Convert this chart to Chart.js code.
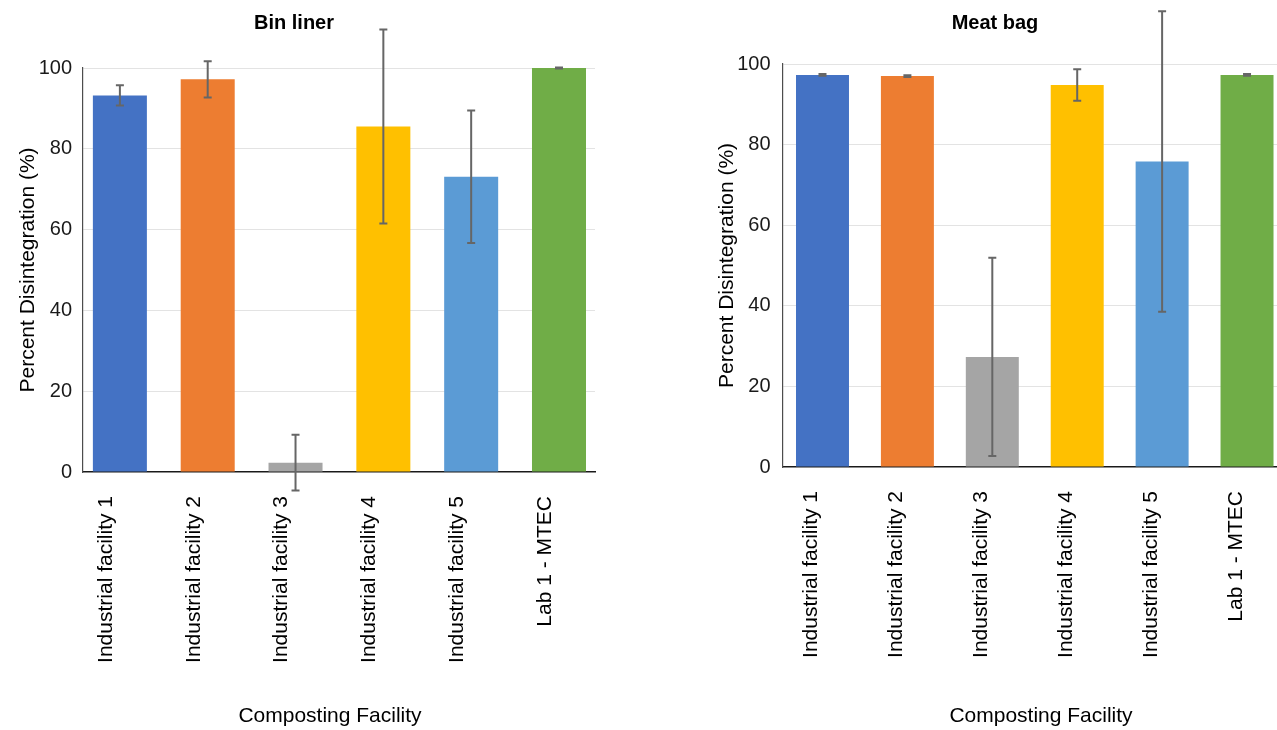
<!DOCTYPE html>
<html>
<head>
<meta charset="utf-8">
<title>Percent Disintegration by Composting Facility</title>
<script src="https://cdn.jsdelivr.net/npm/chart.js@4/dist/chart.umd.min.js"></script>
<style>
  html, body { margin: 0; padding: 0; background: #ffffff; overflow: hidden; }
  body { width: 1277px; height: 730px; position: relative; }
  .panel { position: absolute; top: 0; height: 730px; }
  #left { left: 0; width: 640px; }
  #right { left: 640px; width: 637px; }
</style>
</head>
<body>
<div class="panel" id="left"><canvas id="binLiner"></canvas></div>
<div class="panel" id="right"><canvas id="meatBag"></canvas></div>
<script>
// Composting facilities on the x axis
const categories = [
  'Industrial facility 1',
  'Industrial facility 2',
  'Industrial facility 3',
  'Industrial facility 4',
  'Industrial facility 5',
  'Lab 1 - MTEC'
];
const barColors = ['#4472C4', '#ED7D31', '#A5A5A5', '#FFC000', '#5B9BD5', '#70AD47'];

// Bin liner: mean percent disintegration and its error (±)
const binLinerMeans  = [93.2, 97.2, 2.3, 85.5, 73.1, 100.0];
const binLinerErrors = [2.5, 4.5, 6.9, 24.0, 16.4, 0.1];

// Meat bag: mean percent disintegration and its error (±)
const meatBagMeans  = [97.3, 97.0, 27.3, 94.8, 75.8, 97.3];
const meatBagErrors = [0.2, 0.2, 24.6, 3.9, 37.3, 0.2];

const yTicks = [0, 20, 40, 60, 80, 100];
const yAxisTitle = 'Percent Disintegration (%)';
const xAxisTitle = 'Composting Facility';

const FONT = '"Liberation Sans", Arial, sans-serif';

// Draws ± error bars with caps over every bar (not clipped to the plot area)
const errorBarPlugin = {
  id: 'errorBars',
  afterDatasetsDraw(chart, args, opts) {
    const ctx = chart.ctx;
    const yScale = chart.scales.y;
    chart.data.datasets.forEach((ds, di) => {
      const meta = chart.getDatasetMeta(di);
      meta.data.forEach((bar, i) => {
        const v = ds.data[i].y;
        const e = ds.errors[i];
        const x = bar.x;
        const yTop = yScale.getPixelForValue(v + e);
        const yBot = yScale.getPixelForValue(v - e);
        ctx.save();
        ctx.strokeStyle = opts.color;
        ctx.lineWidth = opts.width;
        ctx.beginPath();
        ctx.moveTo(x, yTop);
        ctx.lineTo(x, yBot);
        ctx.moveTo(x - opts.cap / 2, yTop);
        ctx.lineTo(x + opts.cap / 2, yTop);
        ctx.moveTo(x - opts.cap / 2, yBot);
        ctx.lineTo(x + opts.cap / 2, yBot);
        ctx.stroke();
        ctx.restore();
      });
    });
  }
};

// Panel heading and x-axis caption
const captionPlugin = {
  id: 'captions',
  afterDraw(chart, args, opts) {
    const ctx = chart.ctx;
    ctx.save();
    ctx.fillStyle = '#000000';
    ctx.textAlign = 'center';
    ctx.textBaseline = 'middle';
    ctx.font = 'bold 20px ' + FONT;
    ctx.fillText(opts.title, opts.titleX, opts.titleY);
    ctx.font = '21px ' + FONT;
    ctx.fillText(opts.xTitle, opts.xTitleX, opts.xTitleY);
    ctx.restore();
  }
};

function makePanel(canvasId, title, means, errors, geo) {
  const data = {
    datasets: [{
      data: means.map((v, i) => ({ x: i, y: v })),
      errors: errors,
      backgroundColor: barColors,
      borderWidth: 0,
      categoryPercentage: 1,
      barPercentage: geo.barPct
    }]
  };
  // keep the category band range fixed so the first bar sits close to the y axis
  const fixRange = (scale) => { scale.min = geo.xMin; scale.max = geo.xMax; };
  return new Chart(document.getElementById(canvasId), {
    type: 'bar',
    data: data,
    plugins: [errorBarPlugin, captionPlugin],
    options: {
      responsive: true,
      maintainAspectRatio: false,
      animation: false,
      layout: { padding: { top: geo.top, right: geo.right, bottom: 0, left: 0 } },
      plugins: {
        legend: { display: false },
        tooltip: { enabled: false },
        title: { display: false },
        errorBars: { color: '#666666', width: 2, cap: 8 },
        captions: {
          title: title,
          titleX: geo.titleX, titleY: 23,
          xTitle: xAxisTitle,
          xTitleX: geo.xTitleX, xTitleY: 716
        }
      },
      scales: {
        x: {
          type: 'linear',
          offset: false,
          bounds: 'data',
          min: geo.xMin,
          max: geo.xMax,
          grid: { display: false, offset: false },
          border: { display: true, color: '#1a1a1a', width: 1.5 },
          afterDataLimits: fixRange,
          afterFit(scale) {
            scale.height = geo.xAxisHeight;
            scale.paddingLeft = 0;
            scale.paddingRight = 0;
          },
          afterBuildTicks(scale) {
            fixRange(scale);
            scale.ticks = categories.map((c, i) => ({ value: i }));
          },
          ticks: {
            autoSkip: false,
            minRotation: 90,
            maxRotation: 90,
            padding: 16,
            labelOffset: geo.labelOffset,
            color: '#000000',
            font: { family: FONT, size: 21 },
            callback: (value) => categories[value]
          }
        },
        y: {
          min: 0,
          max: 100,
          afterFit(scale) { scale.width = geo.yAxisWidth; },
          afterBuildTicks(scale) { scale.ticks = yTicks.map(v => ({ value: v })); },
          grid: {
            color: (c) => c.tick && c.tick.value === 0 ? 'rgba(0,0,0,0)' : '#e3e3e3',
            lineWidth: 1,
            drawTicks: false
          },
          border: { display: true, color: '#4d4d4d', width: 1.2 },
          ticks: {
            padding: geo.yTickPad,
            color: '#1a1a1a',
            font: { family: FONT, size: 20 }
          },
          title: {
            display: true,
            text: yAxisTitle,
            color: '#000000',
            font: { family: FONT, size: 21 },
            padding: { top: geo.yTitlePad, bottom: 0 }
          }
        }
      }
    }
  });
}

makePanel('binLiner', 'Bin liner', binLinerMeans, binLinerErrors, {
  top: 68, right: 45, xAxisHeight: 258, yAxisWidth: 83,
  xMin: -0.42, xMax: 5.41, barPct: 0.615, labelOffset: -14,
  yTickPad: 11, yTitlePad: 16, titleX: 294, xTitleX: 330
});

makePanel('meatBag', 'Meat bag', meatBagMeans, meatBagErrors, {
  top: 64, right: 0, xAxisHeight: 263, yAxisWidth: 142.5,
  xMin: -0.471, xMax: 5.353, barPct: 0.624, labelOffset: -11,
  yTickPad: 12, yTitlePad: 75, titleX: 355, xTitleX: 401
});
</script>
</body>
</html>
